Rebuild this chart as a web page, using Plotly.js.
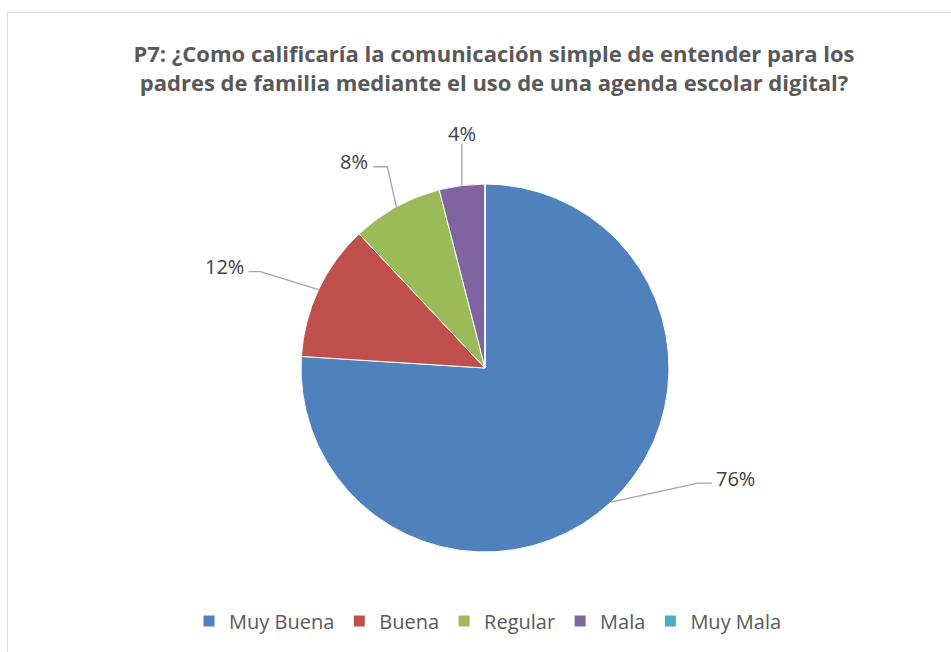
<!DOCTYPE html>
<html>
<head>
<meta charset="utf-8">
<script src="https://cdn.plot.ly/plotly-3.0.1.min.js"></script>
<style>
  html, body { margin: 0; padding: 0; background: #ffffff; }
  #wrap { position: relative; width: 951px; height: 652px; overflow: hidden; }
  #chart { width: 951px; height: 652px; }
  #chart text { font-variant-ligatures: none; }
  #frame { position: absolute; left: 7px; top: 12px; width: 960px; height: 660px;
           border-left: 1.5px solid #d9d9d9; border-top: 1.5px solid #d9d9d9; pointer-events: none; }
</style>
</head>
<body>
<div id="wrap">
  <div id="chart"></div>
  <div id="frame"></div>
</div>
<script>
// ---- data ----
const categories = ["Muy Buena", "Buena", "Regular", "Mala", "Muy Mala"];
const values = [76, 12, 8, 4, 0];
const colors = ["#4F81BD", "#C0504D", "#9BBB59", "#8064A2", "#4BACC6"];
const titleText = "P7: ¿Como calificaría la comunicación simple de entender para los<br>padres de familia mediante el uso de una agenda escolar digital?";

// ---- layout geometry (pixels) ----
const W = 951, H = 652;
const CX = 485, CY = 368, R = 184;
const FONT = "'Open Sans', Lato, sans-serif";
// leader-line styling per slice: [elbow dx, elbow dy, horizontal run, text anchor]
const leaderStyle = [
  [87, -19, 14, "left"],
  [-58, -18, -12, "right"],
  [-9, -40, -14, "right"],
  [0, -42, 0, "center"],
  [0, 0, 0, "center"]
];

const px = x => x / W;
const py = y => 1 - y / H;

const total = values.reduce((a, b) => a + b, 0);
const shapes = [];
const annotations = [];
let cum = 0;
values.forEach((v, i) => {
  const mid = (cum + v / 2) / total * 2 * Math.PI;
  cum += v;
  if (v <= 0) return;
  const ex = CX + R * Math.sin(mid);
  const ey = CY - R * Math.cos(mid);
  const [dx, dy, run, anchor] = leaderStyle[i];
  const bx = ex + dx, by = ey + dy;
  const tx = bx + run, ty = by;
  shapes.push({
    type: "path", xref: "paper", yref: "paper",
    path: `M ${px(ex)} ${py(ey)} L ${px(bx)} ${py(by)} L ${px(tx)} ${py(ty)}`,
    line: { color: "#a6a6a6", width: 1.3 }
  });
  const pct = Math.round(v / total * 100) + "%";
  annotations.push({
    xref: "paper", yref: "paper",
    x: px(anchor === "left" ? tx + 2 : anchor === "right" ? tx - 3 : tx),
    y: py(anchor === "center" ? ty - 10 : ty - 5),
    xanchor: anchor, yanchor: "middle",
    text: pct, showarrow: false,
    font: { family: FONT, size: 20, color: "#404040" }
  });
});

const trace = {
  type: "pie",
  labels: categories,
  values: values,
  sort: false,
  direction: "clockwise",
  rotation: 0,
  textinfo: "none",
  hoverinfo: "label+percent",
  marker: { colors: colors, line: { color: "#ffffff", width: 1 } },
  domain: { x: [(CX - R) / W, (CX + R) / W], y: [py(CY + R), py(CY - R)] },
  showlegend: true
};

const layout = {
  width: W, height: H,
  margin: { l: 0, r: 0, t: 0, b: 0 },
  paper_bgcolor: "#ffffff",
  font: { family: FONT, color: "#595959" },
  title: {
    text: "<b>" + titleText + "</b>",
    font: { family: FONT, size: 22, color: "#595959" },
    x: 494 / W, xanchor: "center", y: py(62), yanchor: "middle"
  },
  legend: {
    orientation: "h", x: 488 / W, xanchor: "center", y: py(621), yanchor: "middle",
    font: { family: FONT, size: 20, color: "#595959" },
    traceorder: "normal"
  },
  shapes: shapes,
  annotations: annotations
};

Plotly.newPlot("chart", [trace], layout, { displayModeBar: false, staticPlot: true });
</script>
</body>
</html>
